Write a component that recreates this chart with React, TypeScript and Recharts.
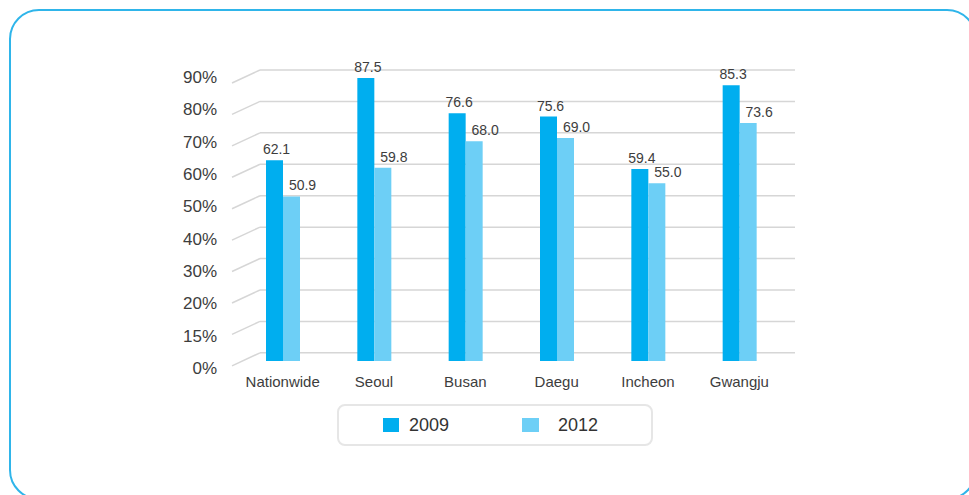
import React from 'react';
import { BarChart, Bar, XAxis, YAxis, CartesianGrid, LabelList } from 'recharts';

const regions = ['Nationwide', 'Seoul', 'Busan', 'Daegu', 'Incheon', 'Gwangju'];
const rate2009 = [62.1, 87.5, 76.6, 75.6, 59.4, 85.3];
const rate2012 = [50.9, 59.8, 68.0, 69.0, 55.0, 73.6];
const yTicks = [0, 10, 20, 30, 40, 50, 60, 70, 80, 90];
const yTickLabels = ['0%', '15%', '20%', '30%', '40%', '50%', '60%', '70%', '80%', '90%'];

const series = [
  { key: 'y2009', name: '2009', color: '#00aeef' },
  { key: 'y2012', name: '2012', color: '#6dcff6' },
];

// value labels sit a little right of the bar centre, more so for 2012
const labelShift = [2, 11];

const data = regions.map((region, i) => ({ region, y2009: rate2009[i], y2012: rate2012[i] }));

const FONT = '"Liberation Sans", Arial, sans-serif';
const TEXT = '#3d3d3d';
const GRID = '#d6d6d6';

// back wall of the fake 3D grid sits up and right of the plot
const DEPTH_X = 23;
const DEPTH_Y = 13;

const YTick = (props: any) => {
  const { x, y, payload } = props;
  const label = yTickLabels[yTicks.indexOf(payload.value)];
  return (
    <text x={x} y={y} dy={13} textAnchor="end" fontSize={17} fill={TEXT} fontFamily={FONT}>
      {label}
    </text>
  );
};

const EmptyTick = () => <g />;

const gridLine = (p: any) => (
  <g key={`grid-${p.index}`}>
    <line x1={p.x1 + DEPTH_X} y1={p.y1} x2={p.x2 + 10} y2={p.y2} stroke={GRID} strokeWidth={1.5} />
    <line x1={p.x1 - 5} y1={p.y1 + DEPTH_Y} x2={p.x1 + DEPTH_X} y2={p.y1} stroke={GRID} strokeWidth={1.5} />
  </g>
);

const makeBarLabel = (shift: number) => (props: any) => {
  const vb = props.viewBox ?? props;
  return (
    <text
      x={vb.x + vb.width / 2 + shift}
      y={vb.y - 6}
      textAnchor="middle"
      fontSize={14}
      fill={TEXT}
      fontFamily={FONT}
    >
      {Number(props.value).toFixed(1)}
    </text>
  );
};

const ChartLegend = () => (
  <div
    style={{
      position: 'absolute',
      left: 337,
      top: 404,
      width: 316,
      height: 42,
      boxSizing: 'border-box',
      border: '2px solid #e6e6e6',
      borderRadius: 8,
      display: 'flex',
      alignItems: 'center',
      paddingLeft: 44,
      fontFamily: FONT,
      fontSize: 18,
      color: '#333',
    }}
  >
    {series.map((s, i) => (
      <div key={s.key} style={{ display: 'flex', alignItems: 'center', width: i === 0 ? 139 : 'auto' }}>
        <span style={{ display: 'inline-block', width: 16 + i, height: 14, background: s.color, marginRight: i === 0 ? 10 : 19 }} />
        <span>{s.name}</span>
      </div>
    ))}
  </div>
);

export default function App() {
  return (
    <div style={{ position: 'absolute', left: 0, top: 0, width: 969, height: 495, overflow: 'hidden', background: '#fff' }}>
      <div
        style={{
          position: 'absolute',
          left: 9,
          top: 9,
          width: 968,
          height: 491,
          boxSizing: 'border-box',
          border: '2px solid #2fb5ea',
          borderRadius: 30,
        }}
      />
      <div style={{ position: 'absolute', left: 0, top: 0 }}>
        <BarChart
          width={969}
          height={495}
          data={data}
          margin={{ top: 70, right: 184, left: 0, bottom: 104 }}
          barSize={17}
          barGap={0}
        >
          <YAxis
            yAxisId="back"
            type="number"
            domain={[-2.6, 90]}
            allowDataOverflow
            ticks={yTicks}
            interval={0}
            width={0}
            axisLine={false}
            tickLine={false}
            tick={<EmptyTick />}
          />
          <CartesianGrid yAxisId="back" vertical={false} horizontal={gridLine} syncWithTicks />
          <XAxis
            dataKey="region"
            axisLine={false}
            tickLine={false}
            tickSize={0}
            tickMargin={15}
            interval={0}
            tick={{ fill: TEXT, fontSize: 15, fontFamily: FONT }}
          />
          <YAxis
            yAxisId="front"
            type="number"
            domain={[0, 90]}
            ticks={yTicks}
            interval={0}
            width={237}
            axisLine={false}
            tickLine={false}
            tickSize={0}
            tickMargin={20}
            tick={<YTick />}
          />
          {series.map((s, i) => (
            <Bar key={s.key} yAxisId="front" dataKey={s.key} name={s.name} fill={s.color} isAnimationActive={false}>
              <LabelList dataKey={s.key} content={makeBarLabel(labelShift[i])} />
            </Bar>
          ))}
        </BarChart>
      </div>
      <ChartLegend />
    </div>
  );
}
